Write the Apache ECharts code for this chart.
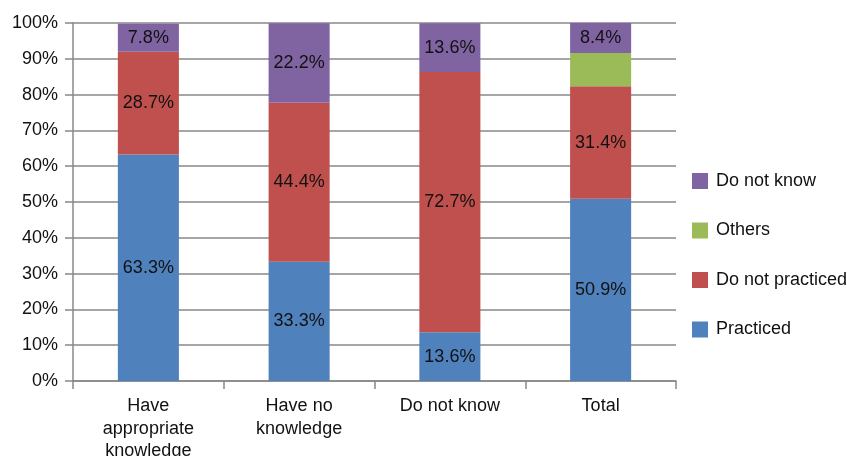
<!DOCTYPE html>
<html>
<head>
<meta charset="utf-8">
<script src="https://cdn.jsdelivr.net/npm/echarts@6/dist/echarts.min.js"></script>
<style>html,body{margin:0;padding:0;background:#fff}#c{width:847px;height:456px}</style>
</head>
<body>
<div id="c"></div>
<script>
var categories = ['Have\nappropriate\nknowledge', 'Have no\nknowledge', 'Do not know', 'Total'];
var practiced = [63.3, 33.3, 13.6, 50.9];
var notPracticed = [28.7, 44.4, 72.7, 31.4];
var others = [0, 0, 0, 9.3];
var doNotKnow = [7.8, 22.2, 13.6, 8.4];
var yTicks = [0, 10, 20, 30, 40, 50, 60, 70, 80, 90, 100];

var font = 'Liberation Sans, Arial, Helvetica, sans-serif';
var lbl = {show: true, position: 'inside', color: '#111', fontSize: 18, fontFamily: font,
  formatter: function(p){ return p.value.toFixed(1) + '%'; }};
function mk(name, data, color, showLabel) {
  return {name: name, type: 'bar', stack: 's', data: data, barWidth: '40.5%',
    itemStyle: {color: color}, label: showLabel ? lbl : {show: false}};
}
var chart = echarts.init(document.getElementById('c'));
chart.setOption({
  animation: false,
  grid: {left: 73, right: 171, top: 23, bottom: 75, outerBoundsMode: 'none', containLabel: false},
  legend: {
    orient: 'vertical', left: 687, top: 167,
    itemWidth: 16, itemHeight: 16, itemGap: 31.5,
    data: ['Do not know', 'Others', 'Do not practiced', 'Practiced'],
    textStyle: {fontSize: 18, fontFamily: font, color: '#111', padding: [0, 0, 0, 3]},
    icon: 'rect'
  },
  xAxis: {
    type: 'category', data: categories,
    axisLine: {lineStyle: {color: '#888', width: 1.5}},
    axisTick: {show: true, length: 8, lineStyle: {color: '#888', width: 1.5}},
    axisLabel: {fontSize: 18, fontFamily: font, color: '#111', lineHeight: 22.5, margin: 14, interval: 0}
  },
  yAxis: {
    type: 'value', min: yTicks[0], max: yTicks[yTicks.length - 1], interval: 10,
    axisLine: {show: true, lineStyle: {color: '#888', width: 1.5}},
    axisTick: {show: true, length: 8, lineStyle: {color: '#888', width: 1.5}},
    splitLine: {lineStyle: {color: '#888', width: 1.5}},
    axisLabel: {fontSize: 18, fontFamily: font, color: '#111', margin: 15, formatter: '{value}%'}
  },
  series: [
    mk('Practiced', practiced, '#4F81BD', true),
    mk('Do not practiced', notPracticed, '#C0504D', true),
    mk('Others', others, '#9BBB59', false),
    mk('Do not know', doNotKnow, '#8064A2', true)
  ]
});
</script>
</body>
</html>
